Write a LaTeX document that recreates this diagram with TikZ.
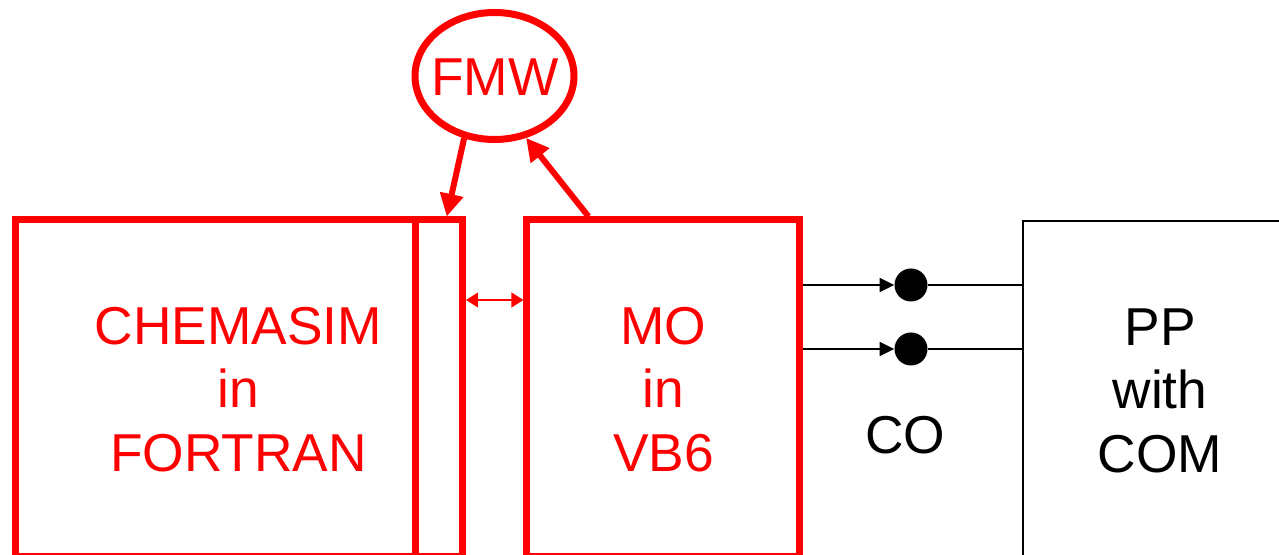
\documentclass[tikz,border=0pt]{standalone}
\usepackage{fontspec}
\setmainfont{Liberation Sans}
\usetikzlibrary{arrows.meta,shapes.geometric,calc}
\definecolor{rd}{RGB}{255,0,0}
\begin{document}
\begin{tikzpicture}[x=0.75pt,y=-0.75pt,
  redbox/.style={draw=rd, line width=5.25pt, rectangle, inner sep=0pt, minimum height=252.75pt},
  lbl/.style={font=\fontsize{40}{47.6}\selectfont, align=center, inner sep=0pt},
  redarrow/.style={draw=rd, line width=4.5pt, -{Triangle[length=17pt,width=17pt]}},
  thinred/.style={draw=rd, line width=1.5pt, {Triangle[length=9pt,width=11pt]}-{Triangle[length=9pt,width=11pt]}},
  blk/.style={draw=black, line width=1.5pt},
  blkarrow/.style={blk, -{Triangle[length=11pt,width=10.5pt]}},
  dot/.style={circle, fill=black, minimum size=24.75pt, inner sep=0pt}]
\useasboundingbox (0,0) rectangle (1279,555);
\clip (0,0) rectangle (1279,555);
% boxes
\node[redbox, minimum width=300pt] (chem) at (215,388.5) {};
\node[redbox, minimum width=35.6pt] (port) at (438.75,388.5) {};
\node[redbox, minimum width=204.4pt] (mo) at (663.25,388.5) {};
\node[draw=black, line width=1.5pt, rectangle, inner sep=0pt, minimum width=207.75pt, minimum height=269.25pt] (pp) at (1161.5,400.5) {};
\node[ellipse, draw=rd, line width=5.25pt, inner sep=0pt, minimum width=119.25pt, minimum height=95.25pt] (fmw) at (494.5,76) {};
\node[lbl, text=rd] (fmwtxt) at (495,77.5) {FMW};
% texts
\node[lbl, text=rd] (chemtxt) at (238.5,389.5) {CHEMASIM\\in\\FORTRAN};
\node[lbl, text=rd] (motxt) at (663.5,389.5) {MO\\in\\VB6};
\node[lbl] (pptxt) at (1160,390.5) {PP\\with\\COM};
\node[lbl] (cotxt) at (905,435) {CO};
% dots
\node[dot] (d1) at (911,285) {};
\node[dot] (d2) at (911,349) {};
% connectors
\draw[redarrow] (fmw.244) -- ($(port.north)+(8,0)$);
\draw[redarrow] ($(mo.north west)+(65,0)$) -- (fmw.297);
\draw[thinred] ($(port.east)+(0,-88.5)$) -- ($(mo.west)+(0,-88.5)$);
\draw[blkarrow] (mo.east |- d1) -- (d1);
\draw[blkarrow] (mo.east |- d2) -- (d2);
\draw[blk] (d1) -- (pp.west |- d1);
\draw[blk] (d2) -- (pp.west |- d2);
\end{tikzpicture}
\end{document}
